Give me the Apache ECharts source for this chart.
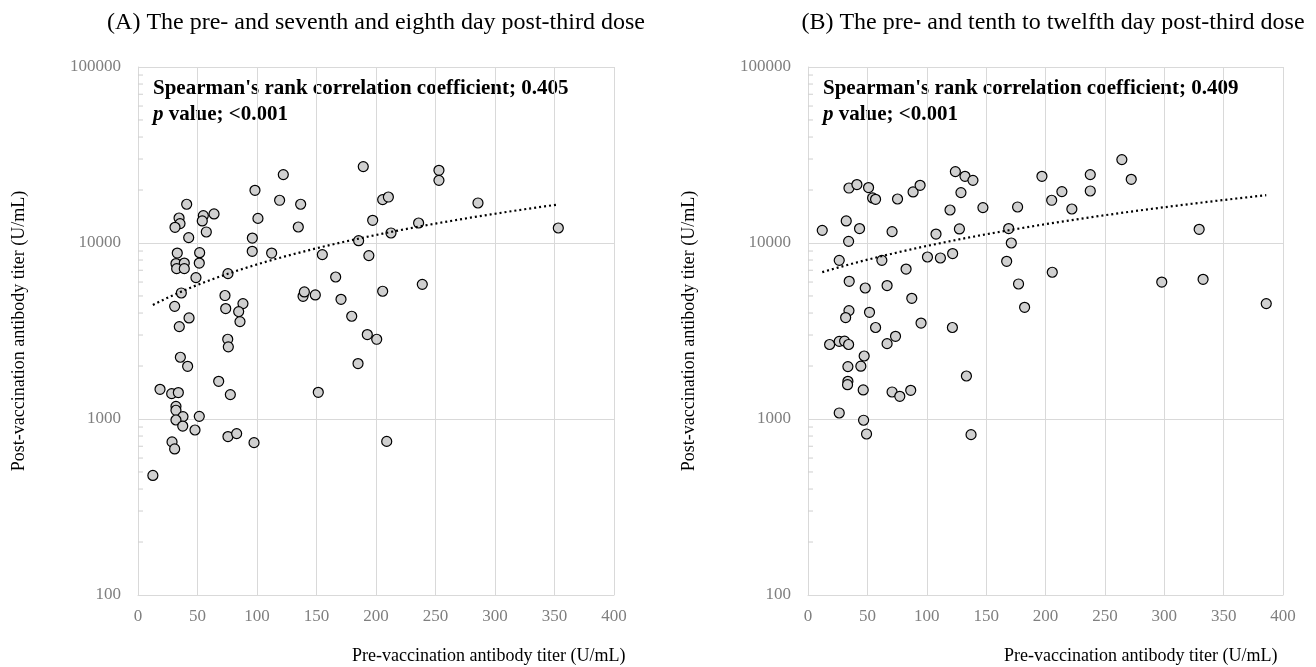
<!DOCTYPE html>
<html>
<head>
<meta charset="utf-8">
<script src="https://cdn.jsdelivr.net/npm/echarts@6/dist/echarts.min.js"></script>
<style>
  html, body { margin: 0; padding: 0; background: #fff; }
  #chart { width: 1316px; height: 667px; }
</style>
</head>
<body>
<div id="chart"></div>
<script>
  // (A) pre vs day 7-8 post third dose: [pre titer, post titer]
  const pointsA = [
    [12.5, 478], [18.5, 1475], [28.3, 1393], [33.9, 1413], [31.9, 1180], [31.9, 1121], [37.8, 1032],
    [31.9, 987], [51.5, 1035], [37.6, 912], [47.9, 866], [28.6, 741], [30.8, 676],
    [36.4, 5200], [30.8, 4365], [42.9, 3750], [34.7, 3350], [35.6, 2243], [41.7, 1993],
    [73.1, 5030], [73.7, 4240], [88.2, 4525], [84.6, 4075], [85.7, 3575], [75.4, 2838], [75.9, 2570],
    [67.8, 1637], [77.6, 1376], [75.6, 795], [82.9, 826], [97.5, 734],
    [138.7, 4980], [139.8, 5270], [149, 5070], [170.6, 4786], [179.6, 3836], [192.7, 3018], [200.6, 2838],
    [184.9, 2065], [151.5, 1418], [205.6, 5320], [209, 746],
    [189.3, 27170], [122.1, 24470], [98.3, 19920], [119, 17490], [136.7, 16600], [40.9, 16600],
    [34.5, 13870], [35.3, 12890], [31.1, 12280], [54.9, 14310], [54, 13340], [63.9, 14620], [57.4, 11550],
    [100.8, 13800], [134.7, 12330], [42.6, 10730], [96.1, 10670], [197.2, 13460], [185.4, 10310],
    [33, 8770], [51.8, 8810], [96, 8970], [112.3, 8770], [154.9, 8590], [194, 8480], [31.9, 7640],
    [38.9, 7690], [32.5, 7150], [38.9, 7150], [51.5, 7690], [48.7, 6360], [75.6, 6700], [166.1, 6410],
    [252.9, 25880], [252.9, 22700], [205.6, 17640], [210.4, 18250], [285.7, 16880], [235.8, 12990],
    [212.6, 11400], [353.2, 12170], [238.9, 5820]
  ];

  // (B) pre vs day 10-12 post third dose
  const pointsB = [
    [12, 11800], [32.2, 13340], [43.4, 12080], [34.2, 10220], [34.5, 20530], [41.2, 21480], [51, 20650],
    [54.4, 18030], [56.9, 17710], [75.4, 17780], [88.5, 19500], [94.4, 21280], [70.8, 11610],
    [124.1, 25450], [132.2, 23930], [138.9, 22700], [128.8, 19330], [119.6, 15400], [147.3, 15890],
    [127.5, 12020], [107.8, 11240], [176.5, 16020], [197, 23930], [169, 12080], [171.2, 10000],
    [26.3, 7970], [62.2, 7970], [100.6, 8325], [111.5, 8220], [121.8, 8710], [82.6, 7110], [34.7, 6060],
    [48.2, 5550], [66.6, 5730], [87.4, 4850], [167.3, 7870], [177.3, 5850], [205.2, 17490],
    [213.8, 19590], [222.2, 15600], [237.7, 24470], [237.7, 19750], [264.3, 29780], [272.2, 23010],
    [329.4, 11960], [205.7, 6820], [297.9, 6000], [332.7, 6220], [385.9, 4525],
    [182.4, 4310], [34.5, 4130], [31.7, 3770], [51.8, 4040], [95.2, 3510], [121.6, 3310], [56.9, 3310],
    [73.7, 2950], [66.6, 2680], [18.2, 2650], [26.3, 2760], [30.8, 2770], [34.2, 2650], [47.3, 2280],
    [33.6, 1985], [44.5, 1995], [133.4, 1755], [33.6, 1637], [33.3, 1567], [46.5, 1462], [70.8, 1424],
    [77.3, 1346], [86.5, 1456], [26.3, 1082], [46.8, 984], [49.3, 822], [137.3, 815]
  ];

  const titles = [
    '(A) The pre- and seventh and eighth day post-third dose',
    '(B) The pre- and tenth to twelfth day post-third dose'
  ];
  const rhoValues = ['0.405', '0.409'];
  const pValues = ['<0.001', '<0.001'];
  const minorTickValues = [200, 300, 400, 500, 600, 700, 800, 900,
    2000, 3000, 4000, 5000, 6000, 7000, 8000, 9000,
    20000, 30000, 40000, 50000, 60000, 70000, 80000, 90000];

  const FONT = '"Liberation Serif", "Times New Roman", serif';
  const GRID_LINE = '#d9d9d9';

  // linear least-squares trend (as Excel's linear trendline), drawn over the data x range
  function trendLine(points) {
    const n = points.length;
    let sx = 0, sy = 0, sxx = 0, sxy = 0;
    points.forEach(([x, y]) => { sx += x; sy += y; sxx += x * x; sxy += x * y; });
    const b = (n * sxy - sx * sy) / (n * sxx - sx * sx);
    const a = (sy - b * sx) / n;
    const xs = points.map(p => p[0]);
    const x0 = Math.min(...xs), x1 = Math.max(...xs);
    const out = [];
    for (let i = 0; i <= 60; i++) {
      const x = x0 + (x1 - x0) * i / 60;
      out.push([x, a + b * x]);
    }
    return out;
  }

  const grids = [
    { left: 138, top: 67, width: 476, height: 528 },
    { left: 808, top: 67, width: 475, height: 528 }
  ];

  const xAxes = grids.map((g, i) => ({
    type: 'value', gridIndex: i, min: 0, max: 400, interval: 50,
    axisLine: { show: true, lineStyle: { color: GRID_LINE, width: 1 } },
    axisTick: { show: false },
    splitLine: { show: true, lineStyle: { color: GRID_LINE, width: 1 } },
    axisLabel: { color: '#7f7f7f', fontSize: 17, fontFamily: FONT, margin: 13 }
  }));

  const yAxes = grids.map((g, i) => ({
    type: 'log', logBase: 10, gridIndex: i, min: 100, max: 100000,
    name: 'Post-vaccination antibody titer (U/mL)',
    nameLocation: 'middle', nameGap: 110, nameRotate: 90,
    nameTextStyle: { color: '#000', fontSize: 18, fontFamily: FONT },
    axisLine: { show: true, lineStyle: { color: GRID_LINE, width: 1 } },
    axisTick: { show: false },
    splitLine: { show: true, lineStyle: { color: GRID_LINE, width: 1 } },
    axisLabel: {
      color: '#7f7f7f', fontSize: 17, fontFamily: FONT, margin: 17,
      formatter: (v) => String(Math.round(v))
    }
  }));

  const series = [];
  [pointsA, pointsB].forEach((pts, i) => {
    series.push({
      type: 'custom', xAxisIndex: i, yAxisIndex: i, silent: true, z: 1, clip: false,
      data: minorTickValues.map(v => [0, v]),
      renderItem(params, api) {
        const p = api.coord([0, api.value(1)]);
        return {
          type: 'line',
          shape: { x1: p[0], y1: p[1], x2: p[0] + 5, y2: p[1] },
          style: { stroke: '#cfcfcf', lineWidth: 1 }
        };
      }
    });
    series.push({
      type: 'scatter', xAxisIndex: i, yAxisIndex: i, z: 3,
      data: pts, symbol: 'circle', symbolSize: 10,
      itemStyle: { color: '#d0d0d0', borderColor: '#000', borderWidth: 1.2, opacity: 1 }
    });
    series.push({
      type: 'line', xAxisIndex: i, yAxisIndex: i, z: 4,
      data: trendLine(pts), showSymbol: false, symbol: 'none', smooth: false,
      lineStyle: { color: '#000', width: 2.2, type: [2, 3] }
    });
  });

  const titleCenters = [376, 1053];
  const xNameLeft = [352, 1004];
  const graphic = [];
  [0, 1].forEach((i) => {
    graphic.push({
      type: 'text', x: titleCenters[i], y: 23,
      style: {
        text: titles[i], font: '24px ' + FONT, fill: '#000',
        textAlign: 'center', textVerticalAlign: 'middle'
      }
    });
    graphic.push({
      type: 'text', x: grids[i].left + 15, y: 76,
      style: {
        text: "{b|Spearman's rank correlation coefficient; " + rhoValues[i] + '}\n{i|p}{b| value; ' + pValues[i] + '}',
        rich: {
          b: { font: 'bold 21px ' + FONT, fill: '#000', lineHeight: 26 },
          i: { font: 'italic bold 21px ' + FONT, fill: '#000', lineHeight: 26 }
        }
      }
    });
    graphic.push({
      type: 'text', x: xNameLeft[i], y: 656,
      style: {
        text: 'Pre-vaccination antibody titer (U/mL)', font: '18px ' + FONT, fill: '#000',
        textVerticalAlign: 'middle'
      }
    });
  });

  const chart = echarts.init(document.getElementById('chart'));
  chart.setOption({
    animation: false,
    textStyle: { fontFamily: FONT },
    grid: grids,
    xAxis: xAxes,
    yAxis: yAxes,
    series: series,
    graphic: graphic
  });
</script>
</body>
</html>
